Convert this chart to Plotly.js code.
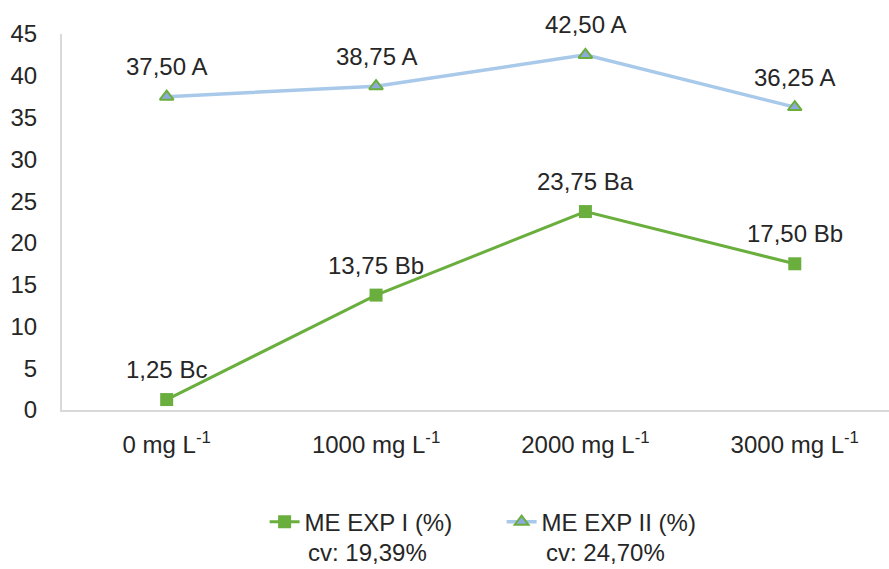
<!DOCTYPE html>
<html>
<head>
<meta charset="utf-8">
<script src="https://cdn.plot.ly/plotly-3.0.1.min.js"></script>
<style>html,body{margin:0;padding:0;background:#fff;}#chart{width:889px;height:569px;}</style>
</head>
<body>
<div id="chart"></div>
<script>
const categories = ["0 mg L<sup>-1</sup>", "1000 mg L<sup>-1</sup>", "2000 mg L<sup>-1</sup>", "3000 mg L<sup>-1</sup>"];
const expI = [1.25, 13.75, 23.75, 17.50];
const expILetters = ["Bc", "Bb", "Ba", "Bb"];
const expII = [37.50, 38.75, 42.50, 36.25];
const expIILetters = ["A", "A", "A", "A"];
const seriesNames = ["ME EXP I (%)", "ME EXP II (%)"];
const cvTexts = ["cv: 19,39%", "cv: 24,70%"];

const fmt = v => v.toFixed(2).replace('.', ',');
const FONT = "Liberation Sans, Arial, sans-serif";
const TXT = "#262626";
const FS = 24;

const traces = [
  {
    x: categories, y: expI, name: seriesNames[0], type: 'scatter', mode: 'lines+markers',
    line: {color: '#6aaf3e', width: 3},
    marker: {symbol: 'square', size: 13, color: '#6aaf3e'},
    cliponaxis: false
  },
  {
    x: categories, y: expII, name: seriesNames[1], type: 'scatter', mode: 'lines+markers',
    line: {color: '#a9c9ea', width: 3.5},
    marker: {symbol: 'triangle-up', size: 12, color: '#8ea9db', line: {color: '#6aaf3e', width: 2}},
    cliponaxis: false
  }
];

const annotations = [];
expI.forEach((v, i) => annotations.push({
  x: categories[i], y: v, xref: 'x', yref: 'y', text: fmt(v) + ' ' + expILetters[i],
  showarrow: false, yshift: 30, font: {family: FONT, size: FS, color: TXT}
}));
expII.forEach((v, i) => annotations.push({
  x: categories[i], y: v, xref: 'x', yref: 'y', text: fmt(v) + ' ' + expIILetters[i],
  showarrow: false, yshift: 30, font: {family: FONT, size: FS, color: TXT}
}));
const cvX = [0.369, 0.657];
cvTexts.forEach((t, i) => annotations.push({
  x: cvX[i], y: -0.38, xref: 'paper', yref: 'paper', text: t, showarrow: false,
  xanchor: 'center', yanchor: 'middle', font: {family: FONT, size: FS, color: TXT}
}));

const layout = {
  width: 889, height: 569,
  margin: {l: 62, r: 0, t: 34, b: 159},
  paper_bgcolor: '#fff', plot_bgcolor: '#fff',
  font: {family: FONT, size: FS, color: TXT},
  showlegend: true,
  legend: {orientation: 'h', x: 0.245, xanchor: 'left', y: -0.298, yanchor: 'middle',
           font: {family: FONT, size: FS, color: TXT}, itemwidth: 30, tracegroupgap: 0,
           entrywidth: 192, entrywidthmode: 'pixels'},
  xaxis: {
    type: 'category', range: [-0.5, 3.45], showgrid: false, zeroline: false,
    showline: true, linecolor: '#d9d9d9', linewidth: 2, ticks: '', ticklabelstandoff: 12,
    tickfont: {family: FONT, size: FS, color: TXT}, fixedrange: true
  },
  yaxis: {
    range: [0, 45], dtick: 5, tick0: 0, showgrid: false, zeroline: false,
    showline: true, linecolor: '#d9d9d9', linewidth: 2, ticks: '', ticklabelstandoff: 18,
    tickfont: {family: FONT, size: FS, color: TXT}, fixedrange: true
  },
  annotations: annotations
};

Plotly.newPlot('chart', traces, layout, {displayModeBar: false, staticPlot: true});
</script>
</body>
</html>
